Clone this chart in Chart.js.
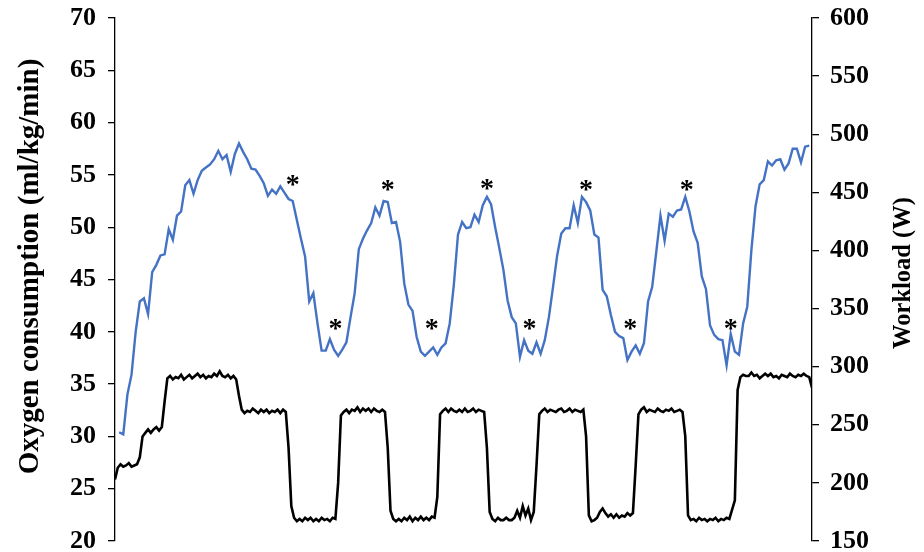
<!DOCTYPE html>
<html>
<head>
<meta charset="utf-8">
<script src="https://cdn.jsdelivr.net/npm/chart.js@4.4.1/dist/chart.umd.min.js"></script>
<style>
  html, body { margin: 0; padding: 0; background: #ffffff; }
  #wrap { width: 924px; height: 552px; position: relative; }
</style>
</head>
<body>
<div id="wrap"><canvas id="chart" width="924" height="552"></canvas></div>
<script>
// Oxygen uptake, 15-s averages (ml/kg/min), first sample at 15 s
const oxygenStep = 15;
const oxygen = [
  30.4, 30.2, 34.0, 35.9, 40.0, 42.9, 43.2, 41.7, 45.7, 46.4,
  47.3, 47.4, 49.8, 48.8, 51.1, 51.5, 54.0, 54.5, 53.2, 54.5,
  55.4, 55.7, 56.0, 56.5, 57.3, 56.5, 56.9, 55.3, 57.0, 58.0,
  57.2, 56.5, 55.6, 55.5, 54.9, 54.2, 53.0, 53.6, 53.2, 53.9,
  53.3, 52.7, 52.5, 50.7, 48.9, 47.2, 42.9, 43.7, 40.8, 38.2,
  38.2, 39.3, 38.3, 37.7, 38.3, 39.0, 41.4, 43.7, 47.9, 48.9,
  49.7, 50.4, 51.9, 51.1, 52.5, 52.4, 50.4, 50.5, 48.6, 44.6,
  42.6, 42.0, 39.5, 38.1, 37.7, 38.1, 38.5, 37.8, 38.5, 38.9,
  40.8, 44.5, 49.3, 50.5, 49.9, 50.0, 51.2, 50.5, 52.1, 52.9,
  52.2, 50.0, 48.0, 45.9, 43.0, 41.4, 40.8, 37.6, 39.2, 38.2,
  37.9, 39.0, 37.9, 39.2, 41.4, 44.3, 47.3, 49.4, 49.9, 49.9,
  52.1, 50.4, 52.9, 52.4, 51.6, 49.3, 49.0, 44.0, 43.4, 41.6,
  40.0, 39.6, 39.4, 37.3, 38.1, 38.7, 37.9, 38.9, 42.9, 44.3,
  47.7, 51.1, 48.7, 51.3, 51.0, 51.6, 51.7, 52.9, 51.5, 49.6,
  48.5, 45.3, 44.1, 40.6, 39.7, 39.3, 39.2, 36.8, 39.8, 38.1,
  37.8, 40.8, 42.4, 47.8, 52.0, 54.1, 54.5, 56.3, 55.9, 56.4,
  56.5, 55.5, 56.1, 57.5, 57.5, 56.2, 57.7, 57.8
];

// Ergometer workload, 10-s samples (W), first sample at 0 s
const workloadStep = 10;
const workload = [
  203, 213, 216, 214, 215, 217, 214, 215, 216,
  222, 240, 243, 246, 243, 246, 248, 245, 248,
  270, 290, 292, 289, 291, 290, 293, 289, 291, 293, 290, 292, 294, 291,
  293, 290, 292, 291, 294, 292, 296, 292, 291, 293, 290, 292, 289,
  275, 263, 260, 262, 261, 264, 262, 260, 263, 261, 263, 260, 262, 261, 263, 260, 263, 261,
  230, 180, 170, 167, 169, 167, 170, 168, 170, 167, 169, 167, 170, 168, 169, 167, 170, 169,
  200, 258, 261, 263, 260, 263, 262, 265, 261, 264, 262, 264, 261, 264, 262, 261, 263, 261,
  230, 176, 169, 167, 169, 167, 170, 168, 171, 167, 170, 168, 171, 168, 170, 168, 171, 170,
  188, 259, 262, 264, 261, 264, 262, 261, 263, 261, 264, 261, 262, 264, 261, 263, 262, 261,
  230, 175, 169, 167, 170, 168, 168, 170, 168, 168, 170, 176, 170, 180, 172, 178, 168, 175,
  215, 259, 262, 264, 261, 263, 262, 261, 263, 264, 261, 262, 264, 261, 263, 262, 261, 263,
  240, 172, 167, 168, 170, 175, 178, 174, 171, 173, 170, 173, 170, 172, 171, 174, 172, 174,
  215, 259, 263, 265, 261, 263, 262, 261, 264, 262, 261, 263, 262, 264, 261, 262, 263, 261,
  240, 172, 168, 169, 167, 170, 168, 169, 167, 169, 168, 170, 167, 169, 168, 170, 169, 177,
  185, 280, 291, 293, 292, 292, 295, 292, 293, 290, 292, 294, 292, 294, 291, 292, 290, 293,
  292, 291, 294, 292, 291, 293, 292, 294, 292, 291, 282
];

// Significance markers: time (s) and oxygen level at which each "*" sits
const starTimes  = [645, 800, 990, 1150, 1350, 1505, 1710, 1870, 2075, 2235];
const starLevels = [54.5, 40.75, 54.05, 40.75, 54.1, 40.75, 54.05, 40.75, 54.05, 40.75];

// Axes
const timeRange = [0, 2530];
const oxygenTicks = [20, 25, 30, 35, 40, 45, 50, 55, 60, 65, 70];
const workloadTicks = [150, 200, 250, 300, 350, 400, 450, 500, 550, 600];
const oxygenTitle = 'Oxygen consumption (ml/kg/min)';
const workloadTitle = 'Workload (W)';

const serif = '"Liberation Serif", "Times New Roman", serif';

const markersAndTitles = {
  id: 'markersAndTitles',
  afterDatasetsDraw(chart) {
    const { ctx, scales } = chart;
    const size = 28;
    ctx.save();
    ctx.fillStyle = '#000';
    ctx.font = `bold ${size}px ${serif}`;
    ctx.textAlign = 'center';
    ctx.textBaseline = 'alphabetic';
    starTimes.forEach((t, i) => {
      const px = scales.x.getPixelForValue(t);
      const py = scales.yO2.getPixelForValue(starLevels[i]);
      ctx.fillText('*', px, py + size * 0.47);
    });
    ctx.restore();
  },
  afterDraw(chart) {
    const { ctx, chartArea } = chart;
    ctx.save();
    ctx.fillStyle = '#000';
    ctx.textAlign = 'center';
    ctx.textBaseline = 'middle';
    // left title
    ctx.save();
    ctx.translate(31, chartArea.top + 248.5);
    ctx.rotate(-Math.PI / 2);
    ctx.font = `bold 29px ${serif}`;
    ctx.fillText(oxygenTitle, 0, 0);
    ctx.restore();
    // right title
    ctx.save();
    ctx.translate(chartArea.right + 92, chartArea.top + 255);
    ctx.rotate(-Math.PI / 2);
    ctx.font = `bold 24.5px ${serif}`;
    ctx.fillText(workloadTitle, 0, 0);
    ctx.restore();
    ctx.restore();
  }
};

function axisStyle(ticks, width, pad) {
  return {
    min: ticks[0],
    max: ticks[ticks.length - 1],
    afterBuildTicks(scale) { scale.ticks = ticks.map(v => ({ value: v })); },
    afterFit(scale) {
      scale.width = width;
      scale.paddingTop = 0;
      scale.paddingBottom = 0;
    },
    ticks: {
      color: '#000',
      padding: pad,
      font: { family: serif, weight: 'bold', size: 26 }
    },
    grid: {
      drawOnChartArea: false,
      drawTicks: true,
      tickLength: 7,
      color: '#000',
      lineWidth: 1.3
    },
    border: { display: true, color: '#000', width: 1.3 }
  };
}

new Chart(document.getElementById('chart'), {
  type: 'line',
  data: {
    datasets: [
      {
        label: 'Oxygen consumption',
        data: oxygen.map((v, i) => ({ x: (i + 1) * oxygenStep, y: v })),
        yAxisID: 'yO2',
        borderColor: '#4472C4',
        borderWidth: 2.4,
        pointRadius: 0,
        tension: 0,
        fill: false
      },
      {
        label: 'Workload',
        data: workload.map((v, i) => ({ x: i * workloadStep, y: v })),
        yAxisID: 'yW',
        borderColor: '#000000',
        borderWidth: 2.6,
        pointRadius: 0,
        tension: 0,
        fill: false
      }
    ]
  },
  options: {
    responsive: false,
    animation: false,
    layout: { padding: { top: 18, bottom: 11, left: 0, right: 0 } },
    plugins: { legend: { display: false }, tooltip: { enabled: false } },
    scales: {
      x: { type: 'linear', min: timeRange[0], max: timeRange[1], display: false },
      yO2: Object.assign({ position: 'left' }, axisStyle(oxygenTicks, 115, 12)),
      yW: Object.assign({ position: 'right' }, axisStyle(workloadTicks, 112, 11))
    }
  },
  plugins: [markersAndTitles]
});
</script>
</body>
</html>
